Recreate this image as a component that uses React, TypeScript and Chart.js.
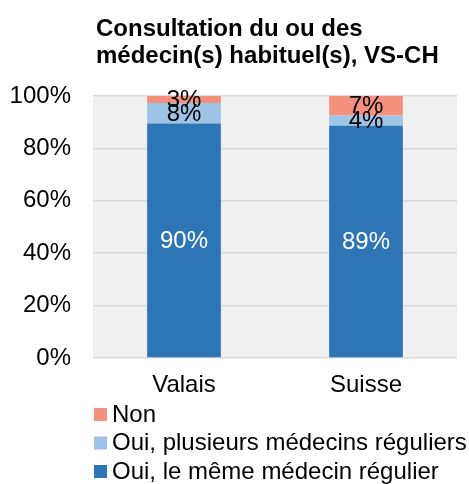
import React, { useEffect, useRef } from "react";
import { Chart, registerables } from "chart.js";

Chart.register(...registerables);

const categories = ["Valais", "Suisse"];
const memeMedecin = [89.5, 88.6];
const plusieursMedecins = [7.8, 4.0];
const non = [2.7, 7.4];
const seriesNames = ["Oui, le même médecin régulier", "Oui, plusieurs médecins réguliers", "Non"];
const seriesColors = ["#2e75b6", "#9dc3e6", "#f4917e"];
const labelColors = ["#ffffff", "#000000", "#000000"];
const titleLines = ["Consultation du ou des", "médecin(s) habituel(s), VS-CH"];
const yTicks = [0, 20, 40, 60, 80, 100];

const FONT = "'Liberation Sans', Arial, sans-serif";

const customPlugin = {
  id: "custom",
  beforeDraw(chart: any) {
    const { ctx, chartArea } = chart;
    ctx.save();
    ctx.fillStyle = "#f0f0f0";
    ctx.fillRect(chartArea.left, chartArea.top, chartArea.right - chartArea.left, chartArea.bottom - chartArea.top);
    ctx.restore();
  },
  afterDatasetsDraw(chart: any) {
    const { ctx } = chart;
    ctx.save();
    ctx.font = `24px ${FONT}`;
    ctx.textAlign = "center";
    ctx.textBaseline = "middle";
    chart.data.datasets.forEach((ds: any, di: number) => {
      const meta = chart.getDatasetMeta(di);
      meta.data.forEach((el: any, i: number) => {
        const v = ds.data[i];
        const cy = (el.y + el.base) / 2;
        ctx.fillStyle = labelColors[di];
        ctx.fillText(Math.round(v) + "%", el.x, cy + 1);
      });
    });
    ctx.restore();
  },
  afterDraw(chart: any) {
    const { ctx, chartArea } = chart;
    ctx.save();
    // title
    ctx.font = `bold 24px ${FONT}`;
    ctx.fillStyle = "#000000";
    ctx.textAlign = "left";
    ctx.textBaseline = "alphabetic";
    titleLines.forEach((line, i) => {
      ctx.fillText(line, 96, 35.5 + i * 27);
    });
    // legend (reverse order)
    ctx.font = `24px ${FONT}`;
    ctx.textBaseline = "middle";
    const order = [2, 1, 0];
    order.forEach((si, row) => {
      const cy = 414 + row * 28.5;
      ctx.fillStyle = seriesColors[si];
      ctx.fillRect(chartArea.left + 1, cy - 6, 13, 13);
      ctx.fillStyle = "#000000";
      ctx.fillText(seriesNames[si], 112, cy + 1);
    });
    ctx.restore();
  },
};

export default function App() {
  const ref = useRef<HTMLCanvasElement>(null);
  useEffect(() => {
    if (!ref.current) return;
    const chart = new Chart(ref.current, {
      type: "bar",
      data: {
        labels: categories,
        datasets: [
          { label: seriesNames[0], data: memeMedecin, backgroundColor: seriesColors[0] },
          { label: seriesNames[1], data: plusieursMedecins, backgroundColor: seriesColors[1] },
          { label: seriesNames[2], data: non, backgroundColor: seriesColors[2] },
        ],
      },
      options: {
        animation: false,
        responsive: false,
        devicePixelRatio: 1,
        layout: { padding: { top: 96, left: 0, right: 12, bottom: 86 } },
        datasets: { bar: { categoryPercentage: 1, barPercentage: 0.405 } },
        plugins: {
          legend: { display: false },
          title: { display: false },
          tooltip: { enabled: false },
        },
        scales: {
          x: {
            stacked: true,
            grid: { display: false, drawTicks: false },
            border: { display: false },
            ticks: { color: "#000000", font: { family: FONT, size: 24 }, padding: 13 },
            afterFit: (s: any) => { s.height = 40; },
          },
          y: {
            stacked: true,
            min: 0,
            max: 100,
            afterBuildTicks: (s: any) => { s.ticks = yTicks.map((v) => ({ value: v })); },
            grid: { color: "#d9d9d9", lineWidth: 1.5, drawTicks: false },
            border: { display: false },
            ticks: {
              color: "#000000",
              font: { family: FONT, size: 24 },
              padding: 22,
              callback: (v: any) => v + "%",
            },
            afterFit: (s: any) => { s.width = 93; },
          },
        },
      },
      plugins: [customPlugin],
    });
    return () => chart.destroy();
  }, []);
  return (
    <div style={{ position: "absolute", left: 0, top: 0, width: 469, height: 484, background: "#ffffff" }}>
      <canvas ref={ref} width={469} height={484} style={{ width: 469, height: 484, display: "block" }} />
    </div>
  );
}
